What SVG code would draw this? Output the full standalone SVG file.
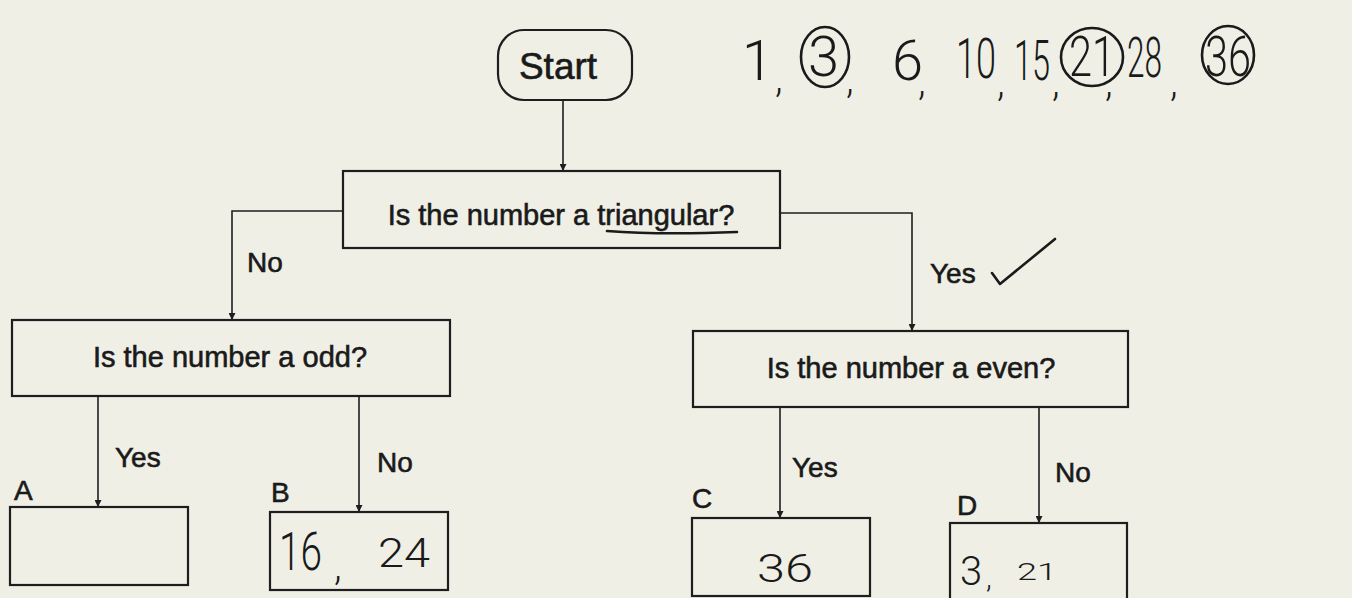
<svg xmlns="http://www.w3.org/2000/svg" width="1352" height="598" viewBox="0 0 1352 598">
<defs>
<style>
.box{fill:none;stroke:#1e1e1e;stroke-width:2.2}
.ln{fill:none;stroke:#1e1e1e;stroke-width:1.6}
.t{font-family:"Liberation Sans",Arial,sans-serif;fill:#1a1a1a;stroke:#1a1a1a;stroke-width:0.6}
.hw{font-family:Roboto,"Liberation Sans",sans-serif;font-weight:300;fill:#1a1a1a}
.ink{fill:none;stroke:#1a1a1a;stroke-width:2.6;stroke-linecap:round;stroke-linejoin:round}
</style>
<marker id="ah" viewBox="0 0 10 10" refX="10" refY="5" markerWidth="7" markerHeight="7" orient="auto" markerUnits="userSpaceOnUse">
<path d="M0,0 L10,5 L0,10 z" fill="#1e1e1e"/>
</marker>
</defs>
<rect width="1352" height="598" fill="#efefe6"/>

<g id="connectors">
<path class="ln" d="M563,100 L563,171" marker-end="url(#ah)"/>
<path class="ln" d="M343,211 L232,211 L232,320" marker-end="url(#ah)"/>
<path class="ln" d="M780,213 L912,213 L912,331" marker-end="url(#ah)"/>
<path class="ln" d="M98,396 L98,507" marker-end="url(#ah)"/>
<path class="ln" d="M359,396 L359,512" marker-end="url(#ah)"/>
<path class="ln" d="M780,407 L780,518" marker-end="url(#ah)"/>
<path class="ln" d="M1039,407 L1039,523" marker-end="url(#ah)"/>
<text class="t" x="247" y="272" font-size="28">No</text>
<text class="t" x="930" y="283" font-size="28">Yes</text>
<text class="t" x="115" y="467" font-size="28">Yes</text>
<text class="t" x="377" y="472" font-size="28">No</text>
<text class="t" x="792" y="477" font-size="28">Yes</text>
<text class="t" x="1055" y="482" font-size="28">No</text>
<path class="ink" d="M992,273 L1000,284 L1055,239"/>
</g>

<g id="start">
<rect class="box" x="498" y="30" width="134" height="70" rx="26"/>
<text class="t" x="558" y="79" font-size="37" text-anchor="middle">Start</text>
</g>

<g id="q-triangular">
<rect class="box" x="343" y="171" width="437" height="77"/>
<text class="t" x="561" y="225" font-size="29" text-anchor="middle">Is the number a triangular?</text>
<path class="ink" d="M607,231 Q660,235 737,232"/>
</g>

<g id="q-odd">
<rect class="box" x="12" y="320" width="438" height="76"/>
<text class="t" x="230" y="367" font-size="29" text-anchor="middle">Is the number a odd?</text>
</g>

<g id="q-even">
<rect class="box" x="693" y="331" width="435" height="76"/>
<text class="t" x="911" y="378" font-size="29" text-anchor="middle">Is the number a even?</text>
</g>

<g id="box-a">
<rect class="box" x="10" y="507" width="178" height="78"/>
<text class="t" x="14" y="500" font-size="28">A</text>
</g>

<g id="box-b">
<rect class="box" x="270" y="512" width="178" height="78"/>
<text class="t" x="271" y="502" font-size="28">B</text>
<text class="hw"><tspan x="279" y="570" font-size="54" textLength="43" lengthAdjust="spacingAndGlyphs">16</tspan><tspan x="334" y="580" font-size="40">,</tspan><tspan x="378" y="567" font-size="40" textLength="52" lengthAdjust="spacingAndGlyphs">24</tspan></text>
</g>

<g id="box-c">
<rect class="box" x="692" y="518" width="178" height="78"/>
<text class="t" x="692" y="508" font-size="28">C</text>
<text class="hw" x="757" y="582" font-size="38" textLength="56" lengthAdjust="spacingAndGlyphs">36</text>
</g>

<g id="box-d">
<rect class="box" x="950" y="523" width="177" height="80"/>
<text class="t" x="957" y="515" font-size="28">D</text>
<text class="hw"><tspan x="960" y="585" font-size="40">3</tspan><tspan x="986" y="588" font-size="30">,</tspan><tspan x="1017" y="580" font-size="24" textLength="40" lengthAdjust="spacingAndGlyphs">21</tspan></text>
</g>

<g id="sequence">
<text class="hw" font-size="56"><tspan x="742" y="80">1</tspan><tspan x="775" y="92" font-size="40">,</tspan><tspan x="808" y="76">3</tspan><tspan x="846" y="93" font-size="40">,</tspan><tspan x="892" y="80">6</tspan><tspan x="918" y="95" font-size="40">,</tspan><tspan x="956" y="78" textLength="40" lengthAdjust="spacingAndGlyphs">10</tspan><tspan x="997" y="96" font-size="40">,</tspan><tspan x="1014" y="80" textLength="36" lengthAdjust="spacingAndGlyphs">15</tspan><tspan x="1052" y="96" font-size="40">,</tspan><tspan x="1069" y="76" textLength="46" lengthAdjust="spacingAndGlyphs">21</tspan><tspan x="1105" y="96" font-size="40">,</tspan><tspan x="1127" y="77" textLength="35" lengthAdjust="spacingAndGlyphs">28</tspan><tspan x="1170" y="96" font-size="40">,</tspan><tspan x="1205" y="76" textLength="46" lengthAdjust="spacingAndGlyphs">36</tspan></text>
<ellipse class="ink" cx="825" cy="57" rx="24" ry="30"/>
<ellipse class="ink" cx="1092" cy="57" rx="31" ry="29"/>
<ellipse class="ink" cx="1228" cy="55" rx="26" ry="29"/>
</g>
</svg>
